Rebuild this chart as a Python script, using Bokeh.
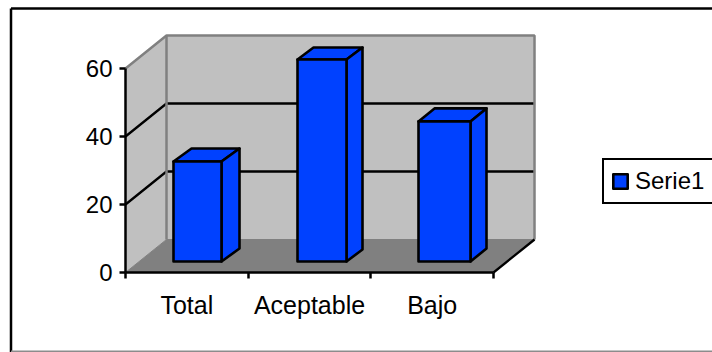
from bokeh.embed import file_html
from bokeh.models import ColumnDataSource, FixedTicker, Legend, LegendItem, Range1d
from bokeh.plotting import figure
from bokeh.resources import INLINE

categories = ["Total", "Aceptable", "Bajo"]
serie1 = [29.4, 59.4, 41.2]
y_ticks = [0, 20, 40, 60]
series_name = "Serie1"

WIDTH, HEIGHT = 712, 352

# Pixel layout of the oblique projection: the data plane sits on the axes,
# the back wall is shifted by (DEPTH_X, DEPTH_Y) pixels.
X0_PX, CAT_PX = 125.0, 122.67
Y0_PX, UNIT_PX = 272.0, 3.4
DEPTH_X, DEPTH_Y = 41.0, 33.0
BAR_DX = [18.0, 16.0, 16.0]
BAR_DY = [13.0, 12.0, 13.0]


def dx(px):
    return px / CAT_PX


def dy(px):
    return px / UNIT_PX


def sx(px):
    return dx(px - X0_PX)


def sy(px):
    return dy(Y0_PX - px)


p = figure(
    width=WIDTH,
    height=HEIGHT,
    x_range=Range1d(-X0_PX / CAT_PX, (WIDTH - X0_PX) / CAT_PX),
    y_range=Range1d(-(HEIGHT - Y0_PX) / UNIT_PX, Y0_PX / UNIT_PX),
    output_backend="svg",
    toolbar_location=None,
    min_border=0,
    background_fill_color="white",
    border_fill_color="white",
    outline_line_color=None,
)
p.grid.visible = False

ncat = len(categories)
ymax = y_ticks[-1]
GRAY_WALL, GRAY_FLOOR, GRAY_EDGE = "#c0c0c0", "#808080", "#808080"

# Chart area frame: dark top and left edges, gray bottom edge, open on the right
p.line([sx(10.5), sx(712)], [sy(8), sy(8)], line_color="black", line_width=2.5)
p.line([sx(10.5), sx(10.5)], [sy(8), sy(352)], line_color="black", line_width=2.5)
p.line([sx(10.5), sx(712)], [sy(351), sy(351)], line_color="#8c8c8c", line_width=2)

# Side wall, back wall and floor
ddx, ddy = dx(DEPTH_X), dy(DEPTH_Y)
p.patch([0, ddx, ddx, 0], [ymax, ymax + ddy, ddy, 0],
        fill_color=GRAY_WALL, line_color=None)
p.patch([ddx, ncat + ddx, ncat + ddx, ddx], [ddy, ddy, ymax + ddy, ymax + ddy],
        fill_color=GRAY_WALL, line_color=None)
p.patch([0, ncat, ncat + ddx, ddx], [0, 0, ddy, ddy],
        fill_color=GRAY_FLOOR, line_color=GRAY_EDGE, line_width=1)

# Gridlines wrap from the side wall onto the back wall
for t in y_ticks[1:-1]:
    p.line([0, ddx, ncat + ddx], [t, t + ddy, t + ddy], line_color="black", line_width=2.3)

# Wall edges sit on top of the gridline ends
p.line([0, ddx, ncat + ddx, ncat + ddx], [ymax, ymax + ddy, ymax + ddy, ddy],
       line_color=GRAY_EDGE, line_width=2.5)
p.line([ddx, ddx], [ymax + ddy, ddy], line_color=GRAY_EDGE, line_width=2.5)
p.line([ncat, ncat + ddx], [0, ddy], line_color="black", line_width=2.3)

# Bars: front face plus top and side faces in the same blue
BLUE = "#0041ff"
bar_w = [dx(48), dx(49), dx(52)]
bar_left = [sx(173), sx(297), sx(418)]
base = sy(261)
style = dict(fill_color=BLUE, line_color="black", line_width=2.6, line_join="round")

for left, w, v, bx, by in zip(bar_left, bar_w, serie1, BAR_DX, BAR_DY):
    right, top = left + w, base + v
    bdx, bdy = dx(bx), dy(by)
    p.patch([left, right, right + bdx, left + bdx], [top, top, top + bdy, top + bdy], **style)
    p.patch([right, right + bdx, right + bdx, right], [base, base + bdy, top + bdy, top], **style)

front = ColumnDataSource(dict(
    left=bar_left,
    right=[l + w for l, w in zip(bar_left, bar_w)],
    bottom=[base] * ncat,
    top=[base + v for v in serie1],
))
bars = p.quad(left="left", right="right", bottom="bottom", top="top", source=front, **style)

# Axes pass through the origin of the data plane
yaxis = p.yaxis[0]
yaxis.fixed_location = 0
yaxis.bounds = (0, ymax)
yaxis.ticker = FixedTicker(ticks=y_ticks)
yaxis.minor_tick_line_color = None
yaxis.major_tick_in = 0
yaxis.major_tick_out = 6
yaxis.major_tick_line_width = 2.5
yaxis.axis_line_width = 2.5
yaxis.major_label_standoff = 7
yaxis.major_label_text_font = "Liberation Sans"
yaxis.major_label_text_font_size = "24px"
yaxis.major_label_text_color = "black"

xaxis = p.xaxis[0]
xaxis.fixed_location = 0
xaxis.bounds = (0, ncat)
centers = [i + 0.5 for i in range(ncat)]
xaxis.ticker = FixedTicker(ticks=centers, minor_ticks=list(range(ncat + 1)))
xaxis.major_label_overrides = dict(zip(centers, categories))
xaxis.major_tick_line_color = None
xaxis.major_tick_in = 0
xaxis.major_tick_out = 0
xaxis.minor_tick_in = 0
xaxis.minor_tick_out = 6
xaxis.minor_tick_line_color = "black"
xaxis.minor_tick_line_width = 2.5
xaxis.axis_line_width = 2.5
xaxis.major_label_standoff = 12
xaxis.major_label_text_font = "Liberation Sans"
xaxis.major_label_text_font_size = "25px"
xaxis.major_label_text_color = "black"

legend = Legend(
    items=[LegendItem(label=series_name, renderers=[bars], index=0)],
    location=(602, 148),
    orientation="vertical",
    border_line_color="black",
    border_line_alpha=1,
    border_line_width=2.5,
    background_fill_color="white",
    background_fill_alpha=1,
    label_text_font="Liberation Sans",
    label_text_font_size="24px",
    label_text_color="black",
    glyph_width=18,
    glyph_height=18,
    margin=0,
    padding=7,
    spacing=0,
    label_standoff=6,
    label_width=71,
)
p.add_layout(legend)

open("out.html", "w").write(file_html(p, INLINE))
